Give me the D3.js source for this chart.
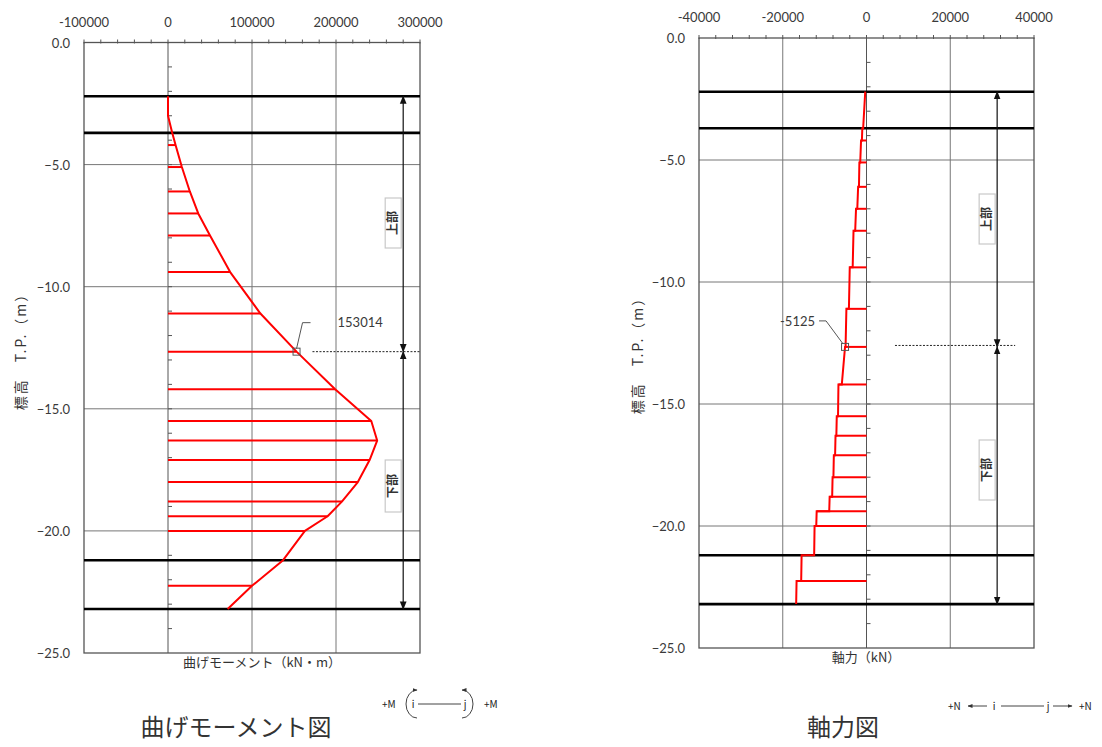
<!DOCTYPE html>
<html>
<head>
<meta charset="utf-8">
<script src="https://cdn.jsdelivr.net/npm/d3@7"></script>
<style>
  body { margin: 0; background: #fff; }
  svg { display: block; }
  .num { font-family: Lato, "Open Sans", sans-serif; font-size: 13px; fill: #3a3a3a; }
  .jp { font-family: "Noto Sans CJK JP", sans-serif; fill: #333; }
</style>
</head>
<body>
<div id="chart"></div>
<script>
// --- データ ---
const layerDepth = [-2.2, -3.7, -21.2, -23.2];   // 太線
const splitDepth = -12.66;                        // 上部 / 下部 の境界

// 曲げモーメント (kN・m)
const momentDepth = [-2.2, -3.0, -3.7, -4.2, -5.1, -6.1, -7.0, -7.9, -9.4, -11.1, -12.66, -14.2, -15.5, -16.3, -17.1, -18.0, -18.8, -19.4, -20.0, -21.2, -22.25, -23.2];
const momentValue = [0, 0, 5000, 9000, 16500, 26000, 36000, 50000, 74000, 110000, 153014, 199000, 242000, 249000, 240000, 226000, 207000, 190000, 163000, 137000, 100000, 71000];
const momentBar   = [0, 0, 0, 1, 1, 1, 1, 1, 1, 1, 1, 1, 1, 1, 1, 1, 1, 1, 1, 0, 1, 0];
const momentTicks = [-100000, 0, 100000, 200000, 300000];

// 軸力 (kN)  要素ごと: 上端深さ, 下端深さ, 上端値, 下端値
const axialTopDepth = [-2.2, -3.7, -4.2, -5.1, -6.1, -7.0, -7.9, -9.4, -11.1, -12.66, -14.2, -15.5, -16.3, -17.1, -18.0, -18.8, -19.4, -20.0, -21.2, -22.25];
const axialBotDepth = [-3.7, -4.2, -5.1, -6.1, -7.0, -7.9, -9.4, -11.1, -12.66, -14.2, -15.5, -16.3, -17.1, -18.0, -18.8, -19.4, -20.0, -21.2, -22.25, -23.2];
const axialTopValue = [-300, -1000, -1300, -1700, -2000, -2500, -3100, -4000, -4800, -5125, -6700, -7100, -7400, -7800, -8100, -8800, -11900, -12400, -15500, -16700];
const axialBotValue = [-800, -1100, -1500, -1800, -2200, -2700, -3300, -4200, -5000, -5900, -6800, -7200, -7500, -7900, -8200, -8900, -12000, -12500, -15600, -16800];
const axialBar      = [0, 0, 1, 1, 1, 1, 1, 1, 1, 1, 1, 1, 1, 1, 1, 1, 1, 1, 0, 1];
const axialTicks = [-40000, -20000, 0, 20000, 40000];

const depthTicks = [0, -5, -10, -15, -20, -25];

const W = 1102, H = 747;
const svg = d3.select("#chart").append("svg").attr("width", W).attr("height", H);

const defs = svg.append("defs");
defs.append("marker").attr("id", "ah").attr("viewBox", "0 0 10 10")
  .attr("refX", 9).attr("refY", 5).attr("markerWidth", 7).attr("markerHeight", 7)
  .attr("orient", "auto-start-reverse")
  .append("path").attr("d", "M0,1 L10,5 L0,9 Z").attr("fill", "#111");
defs.append("marker").attr("id", "ahs").attr("viewBox", "0 0 10 10")
  .attr("refX", 9).attr("refY", 5).attr("markerWidth", 5).attr("markerHeight", 5)
  .attr("orient", "auto")
  .append("path").attr("d", "M0,1 L10,5 L0,9 Z").attr("fill", "#333");

// --- パネル共通 ---
function drawFrame(cfg) {
  const { x, y, ticks, minorStep } = cfg;
  const g = svg.append("g");
  const [x0, x1] = x.range(), [y0, y1] = y.range();

  // グリッド
  g.selectAll(".vg").data(ticks.slice(1, -1)).enter().append("line")
    .attr("x1", d => x(d)).attr("x2", d => x(d)).attr("y1", y0).attr("y2", y1)
    .attr("stroke", d => d === 0 ? "#555" : "#777").attr("stroke-width", 1);
  g.selectAll(".hg").data(depthTicks.slice(1, -1)).enter().append("line")
    .attr("x1", x0).attr("x2", x1).attr("y1", d => y(d)).attr("y2", d => y(d))
    .attr("stroke", "#777").attr("stroke-width", 1);

  // 枠
  g.append("rect").attr("x", x0).attr("y", y0).attr("width", x1 - x0).attr("height", y1 - y0)
    .attr("fill", "none").attr("stroke", "#555").attr("stroke-width", 1.3);

  // 上の軸の補助目盛
  const minor = d3.range(ticks[0], ticks[ticks.length - 1] + 1, minorStep);
  g.selectAll(".mt").data(minor).enter().append("line")
    .attr("x1", d => x(d)).attr("x2", d => x(d)).attr("y1", y0 - 3).attr("y2", y0 + 1)
    .attr("stroke", "#555");
  // 0 の縦軸の目盛 (1m ごと)
  g.selectAll(".dt").data(d3.range(-1, -25, -1)).enter().append("line")
    .attr("x1", x(0)).attr("x2", x(0) + 4).attr("y1", d => y(d)).attr("y2", d => y(d))
    .attr("stroke", "#555");

  // 目盛ラベル
  g.selectAll(".xl").data(ticks).enter().append("text").attr("class", "num")
    .attr("x", d => x(d)).attr("y", y0 - 16).attr("text-anchor", "middle")
    .text(d => d);
  g.selectAll(".yl").data(depthTicks).enter().append("text").attr("class", "num")
    .attr("x", x0 - 14).attr("y", d => y(d) + 5).attr("text-anchor", "end")
    .text(d => d3.format(".1f")(d));

  // 太線（地層）
  g.selectAll(".ly").data(layerDepth).enter().append("line")
    .attr("x1", x0).attr("x2", x1).attr("y1", d => y(d)).attr("y2", d => y(d))
    .attr("stroke", "#000").attr("stroke-width", 2.6);

  // 縦軸タイトル
  g.append("text").attr("class", "jp").attr("font-size", 14).attr("letter-spacing", 2)
    .attr("transform", `translate(${cfg.ytX},${cfg.ytY}) rotate(-90)`)
    .attr("text-anchor", "middle").text("標高　T.P.（m）");

  // 横軸タイトル
  g.append("text").attr("class", "jp").attr("font-size", 13)
    .attr("x", cfg.xtX).attr("y", y1 + 14).attr("text-anchor", "middle").text(cfg.xTitle);

  // 上部 / 下部 の矢印
  const ax = x(cfg.arrowAt);
  [[layerDepth[0], splitDepth], [splitDepth, layerDepth[3]]].forEach(([a, b]) => {
    g.append("line").attr("x1", ax).attr("x2", ax).attr("y1", y(a)).attr("y2", y(b))
      .attr("stroke", "#111").attr("stroke-width", 1.2)
      .attr("marker-start", "url(#ah)").attr("marker-end", "url(#ah)");
  });
  // 点線
  g.append("line").attr("x1", x(cfg.dotFrom)).attr("x2", x(cfg.dotTo))
    .attr("y1", y(cfg.dotDepth)).attr("y2", y(cfg.dotDepth))
    .attr("stroke", "#222").attr("stroke-width", 1).attr("stroke-dasharray", "2,1.5");

  // ラベル箱
  cfg.boxes.forEach(b => {
    const bx = ax - 18, by = b.cy - b.h / 2;
    g.append("rect").attr("x", bx).attr("y", by).attr("width", 16).attr("height", b.h)
      .attr("fill", "#fff").attr("stroke", "#c8c8c8").attr("stroke-width", 1.2);
    g.append("text").attr("class", "jp").attr("font-size", 12).attr("font-weight", 700)
      .attr("transform", `translate(${bx + 12},${b.cy}) rotate(-90)`)
      .attr("text-anchor", "middle").attr("fill", "#222").text(b.t);
  });
  return g;
}

// --- 曲げモーメント図 ---
const xm = d3.scaleLinear().domain([-100000, 300000]).range([84, 420]);
const ym = d3.scaleLinear().domain([0, -25]).range([42.5, 653]);
drawFrame({
  x: xm, y: ym, ticks: momentTicks, minorStep: 20000, ytX: 26, ytY: 348, xtX: 262,
  xTitle: "曲げモーメント（kN・m）", arrowAt: 280000,
  dotFrom: 172000, dotTo: 300000, dotDepth: splitDepth,
  boxes: [{ t: "上部", cy: 223, h: 50 }, { t: "下部", cy: 486, h: 52 }]
});
const gm = svg.append("g");
const mData = momentDepth.map((d, i) => ({ d, v: momentValue[i], bar: momentBar[i] }));
gm.selectAll(".bar").data(mData.filter(p => p.bar)).enter().append("line")
  .attr("x1", xm(0)).attr("x2", p => xm(p.v)).attr("y1", p => ym(p.d)).attr("y2", p => ym(p.d))
  .attr("stroke", "#f00").attr("stroke-width", 2);
gm.append("path").datum(mData)
  .attr("d", d3.line().x(p => xm(p.v)).y(p => ym(p.d)))
  .attr("fill", "none").attr("stroke", "#f00").attr("stroke-width", 2).attr("stroke-linejoin", "round");

// 最大値の注記
const mk = mData[10];
const mkx = xm(mk.v), mky = ym(mk.d);
gm.append("rect").attr("x", mkx - 3.5).attr("y", mky - 3.5).attr("width", 7).attr("height", 7)
  .attr("fill", "none").attr("stroke", "#555").attr("stroke-width", 1);
gm.append("path").attr("d", `M${mkx},${mky - 3} L${mkx + 6},${mky - 29} L${mkx + 14},${mky - 29}`)
  .attr("fill", "none").attr("stroke", "#555").attr("stroke-width", 1);
gm.append("text").attr("class", "num").attr("x", mkx + 41).attr("y", mky - 25).text(mk.v);

// --- 軸力図 ---
const xa = d3.scaleLinear().domain([-40000, 40000]).range([699, 1034]);
const ya = d3.scaleLinear().domain([0, -25]).range([38, 648]);
drawFrame({
  x: xa, y: ya, ticks: axialTicks, minorStep: 4000, ytX: 643, ytY: 352, xtX: 866,
  xTitle: "軸力（kN）", arrowAt: 31200,
  dotFrom: 6800, dotTo: 35500, dotDepth: -12.6,
  boxes: [{ t: "上部", cy: 219, h: 50 }, { t: "下部", cy: 470, h: 60 }]
});
const ga = svg.append("g");
const aData = axialTopDepth.map((d, i) => ({
  d0: d, d1: axialBotDepth[i], v0: axialTopValue[i], v1: axialBotValue[i], bar: axialBar[i]
}));
ga.selectAll(".bar").data(aData.filter(e => e.bar)).enter().append("line")
  .attr("x1", xa(0)).attr("x2", e => xa(e.v0)).attr("y1", e => ya(e.d0)).attr("y2", e => ya(e.d0))
  .attr("stroke", "#f00").attr("stroke-width", 2);
const aPts = [];
aData.forEach(e => { aPts.push([e.v0, e.d0]); aPts.push([e.v1, e.d1]); });
ga.append("path").datum(aPts)
  .attr("d", d3.line().x(p => xa(p[0])).y(p => ya(p[1])))
  .attr("fill", "none").attr("stroke", "#f00").attr("stroke-width", 2);

const ak = aData[9];
const akx = xa(ak.v0), aky = ya(ak.d0);
ga.append("rect").attr("x", akx - 3.5).attr("y", aky - 3.5).attr("width", 7).attr("height", 7)
  .attr("fill", "none").attr("stroke", "#555").attr("stroke-width", 1);
ga.append("path").attr("d", `M${akx - 2},${aky - 3} L${akx - 19},${aky - 26} L${akx - 26},${aky - 26}`)
  .attr("fill", "none").attr("stroke", "#555").attr("stroke-width", 1);
ga.append("text").attr("class", "num").attr("x", akx - 30).attr("y", aky - 21)
  .attr("text-anchor", "end").text(ak.v0);

// --- 図タイトル ---
svg.append("text").attr("class", "jp").attr("font-size", 24).attr("fill", "#111")
  .attr("x", 236).attr("y", 736).attr("text-anchor", "middle").text("曲げモーメント図");
svg.append("text").attr("class", "jp").attr("font-size", 24).attr("fill", "#111")
  .attr("x", 843).attr("y", 736).attr("text-anchor", "middle").text("軸力図");

// --- 符号の凡例 ---
const sg = svg.append("g").attr("font-family", "\"Noto Sans CJK JP\", sans-serif")
  .attr("font-size", 10).attr("fill", "#222");
const smy = 708;
sg.append("text").attr("x", 382).attr("y", smy).text("+M");
sg.append("text").attr("x", 413).attr("y", smy).attr("text-anchor", "middle").text("i");
sg.append("text").attr("x", 465).attr("y", smy).attr("text-anchor", "middle").text("j");
sg.append("text").attr("x", 484).attr("y", smy).text("+M");
sg.append("line").attr("x1", 418).attr("x2", 461).attr("y1", smy - 4).attr("y2", smy - 4).attr("stroke", "#444");
sg.append("path").attr("d", `M417,${smy + 10} A11,14 0 0 1 417,${smy - 18}`)
  .attr("fill", "none").attr("stroke", "#444").attr("marker-end", "url(#ahs)");
sg.append("path").attr("d", `M462,${smy + 10} A11,14 0 0 0 462,${smy - 18}`)
  .attr("fill", "none").attr("stroke", "#444").attr("marker-end", "url(#ahs)");

const sny = 710;
sg.append("text").attr("x", 948).attr("y", sny).text("+N");
sg.append("line").attr("x1", 987).attr("x2", 968).attr("y1", sny - 4).attr("y2", sny - 4)
  .attr("stroke", "#444").attr("marker-end", "url(#ahs)");
sg.append("text").attr("x", 994).attr("y", sny).attr("text-anchor", "middle").text("i");
sg.append("line").attr("x1", 1001).attr("x2", 1044).attr("y1", sny - 4).attr("y2", sny - 4).attr("stroke", "#444");
sg.append("text").attr("x", 1048).attr("y", sny).attr("text-anchor", "middle").text("j");
sg.append("line").attr("x1", 1053).attr("x2", 1072).attr("y1", sny - 4).attr("y2", sny - 4)
  .attr("stroke", "#444").attr("marker-end", "url(#ahs)");
sg.append("text").attr("x", 1079).attr("y", sny).text("+N");
</script>
</body>
</html>
